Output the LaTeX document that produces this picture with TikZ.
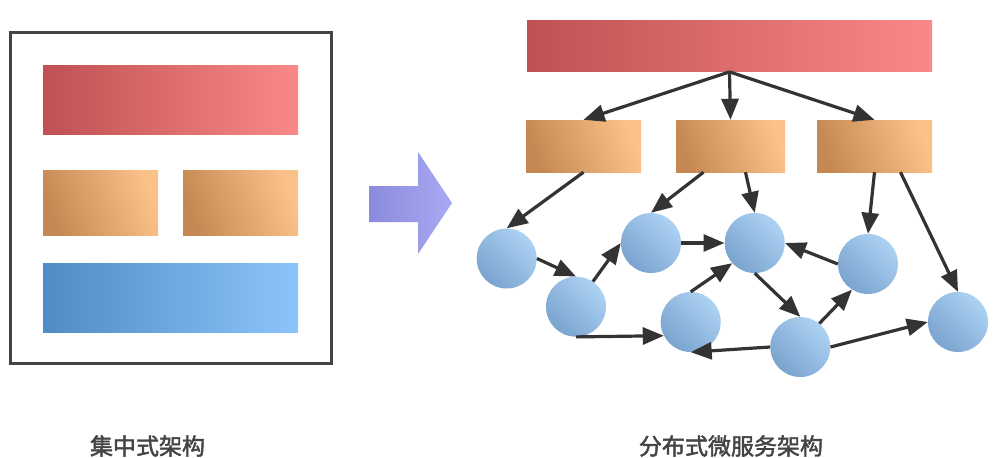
\documentclass[tikz,border=0pt]{standalone}
\usepackage{fontspec}
\newfontfamily\cjk{Noto Sans CJK SC}[FakeBold=2]
\usepackage{tikz}
\usetikzlibrary{arrows.meta,positioning}

\definecolor{reddark}{RGB}{192,80,82}
\definecolor{redlight}{RGB}{251,136,136}
\definecolor{orangedark}{RGB}{198,136,82}
\definecolor{orangelight}{RGB}{250,194,137}
\definecolor{bluedark}{RGB}{80,139,198}
\definecolor{bluelight}{RGB}{141,197,250}
\definecolor{svcdark}{RGB}{122,163,206}
\definecolor{svclight}{RGB}{172,210,243}
\definecolor{movedark}{RGB}{138,139,220}
\definecolor{movelight}{RGB}{169,169,244}
\definecolor{linkgray}{RGB}{51,51,51}
\definecolor{framegray}{RGB}{68,68,68}

\tikzset{
  redbar/.style={rectangle,inner sep=0pt,left color=reddark,right color=redlight},
  bluebar/.style={rectangle,inner sep=0pt,left color=bluedark,right color=bluelight},
  orangebox/.style={rectangle,inner sep=0pt,minimum height=52pt,
    bottom color=orangedark,top color=orangelight,shading angle=-70},
  svc/.style={circle,inner sep=0pt,minimum size=60pt,
    bottom color=svcdark,top color=svclight,shading angle=-45},
  link/.style={-{Triangle[length=21pt,width=17pt]},line width=3.2pt,draw=linkgray},
  caption/.style={font=\cjk\fontsize{23pt}{23pt}\selectfont,text=framegray}
}

\begin{document}
\begin{tikzpicture}[x=1pt,y=-1pt]
\useasboundingbox (0,0) rectangle (997,458);

% centralised: one box holding all layers
\draw[line width=3pt,framegray] (10,32) rectangle (331,363);
\node[redbar,minimum width=255pt,minimum height=69pt] (mono top) at (170.5,99.5) {};
\node[orangebox,minimum width=115pt,minimum height=65pt] (mono left) at (100.5,202.5) {};
\node[orangebox,minimum width=115pt,minimum height=65pt] (mono right) at (240.5,202.5) {};
\node[bluebar,minimum width=255pt,minimum height=69pt] (mono base) at (170.5,297.5) {};
\node[caption] (mono label) at (147.5,446) {集中式架构};

% big arrow
\shade[left color=movedark,right color=movelight]
  (369,186) -- (418,186) -- (418,152) -- (452,203) -- (418,254) -- (418,222) -- (369,222) -- cycle;

% distributed: gateway, services, micro services
\node[redbar,minimum width=405pt,minimum height=51pt] (gate) at (729.5,46.2) {};
\node[orangebox,minimum width=115pt] (o1) at (583.5,146) {};
\node[orangebox,minimum width=109pt] (o2) at (730.5,146) {};
\node[orangebox,minimum width=115pt] (o3) at (874.5,146) {};

\node[svc] (c1) at (506.7,258.5) {};
\node[svc] (c2) at (576,306.7) {};
\node[svc] (c3) at (651,243) {};
\node[svc] (c4) at (754.7,243) {};
\node[svc] (c5) at (868,264) {};
\node[svc] (c6) at (690.7,322) {};
\node[svc] (c7) at (800.3,347) {};
\node[svc] (c8) at (958,322) {};

\node[caption] (dist label) at (731,446) {分布式微服务架构};

% calls
\draw[link] (gate.south) -- (o1.north);
\draw[link] (gate.south) -- (o2.north);
\draw[link] (gate.south) -- (o3.north);
\draw[link] (o1.south) -- (c1.north);
\draw[link] ([xshift=-27pt]o2.south) -- (c3.north);
\draw[link] ([xshift=15pt]o2.south) -- (c4.north);
\draw[link] (o3.south) -- (c5.north);
\draw[link] ([xshift=26pt]o3.south) -- (c8.north);
\draw[link] (c1.east) -- (c2.north);
\draw[link] (c2.56) -- (c3.west);
\draw[link] (c3.east) -- (c4.west);
\draw[link] (c2.south) -- (c6.207);
\draw[link] (c6.north) -- (c4.222);
\draw[link] (c4.south) -- (c7.north);
\draw[link] (c7.51) -- (c5.238);
\draw[link] (c5.west) -- (c4.east);
\draw[link] (c7.west) -- (c6.south);
\draw[link] (c7.east) -- (c8.west);
\end{tikzpicture}
\end{document}
